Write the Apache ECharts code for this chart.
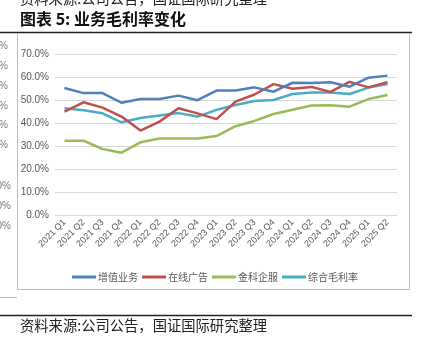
<!DOCTYPE html>
<html><head><meta charset="utf-8">
<script src="https://cdn.jsdelivr.net/npm/echarts@6/dist/echarts.min.js"></script>
<style>html,body{margin:0;padding:0;background:#fff}#c{width:430px;height:349px}</style>
</head><body><div id="c"></div>
<script>
const categories = ['2021 Q1','2021 Q2','2021 Q3','2021 Q4','2022 Q1','2022 Q2','2022 Q3','2022 Q4','2023 Q1','2023 Q2','2023 Q3','2023 Q4','2024 Q1','2024 Q2','2024 Q3','2024 Q4','2025 Q1','2025 Q2'];
const seriesNames = ['增值业务','在线广告','金科企服','综合毛利率'];
const vas = [55.2,53.0,53.0,48.8,50.4,50.4,51.9,49.9,54.1,54.1,55.5,53.6,57.5,57.4,57.7,55.8,59.7,60.6];
const ads = [44.9,49.0,46.7,42.8,36.7,40.6,46.4,44.2,41.7,49.3,52.4,56.9,54.9,55.7,53.5,57.9,55.5,57.7];
const fbs = [32.3,32.3,28.7,27.1,31.6,33.3,33.3,33.3,34.3,38.6,40.9,43.9,45.8,47.6,47.7,47.1,50.4,52.2];
const total = [46.4,45.5,44.2,40.3,42.2,43.3,44.3,42.8,45.7,47.8,49.6,50.0,52.6,53.3,53.3,52.6,55.4,56.9];
const yTicks = {min:0, max:70, interval:10};
const leftCutLabels = ['%','%','%','%','%','%','','0%','0%','0%'];

const colors = ['#4F81BD','#C0504D','#9BBB59','#4BACC6'];
const chart = echarts.init(document.getElementById('c'));
const cutY = [46,66,86,106,125,145,165,186,206,226];
const graphics = [
  {type:'text', left:20, top:-9, style:{text:'资料来源:公司公告，国证国际研究整理', font:'14.3px "Noto Sans CJK SC"', fill:'#222'}},
  {type:'text', left:20, top:11, style:{text:'图表 5: 业务毛利率变化', font:'bold 16px "Noto Sans CJK SC"', fill:'#111'}},
  {type:'line', shape:{x1:0,y1:32.5,x2:412,y2:32.5}, style:{stroke:'#222', lineWidth:1.5}},
  {type:'line', shape:{x1:17.5,y1:33,x2:17.5,y2:289}, style:{stroke:'#BFBFBF', lineWidth:1}},
  {type:'line', shape:{x1:409.5,y1:33,x2:409.5,y2:289}, style:{stroke:'#BFBFBF', lineWidth:1}},
  {type:'line', shape:{x1:17,y1:289.5,x2:410,y2:289.5}, style:{stroke:'#BFBFBF', lineWidth:1}},
  {type:'line', shape:{x1:0,y1:297.5,x2:17,y2:297.5}, style:{stroke:'#BFBFBF', lineWidth:1}},
  {type:'line', shape:{x1:0,y1:315.5,x2:412,y2:315.5}, style:{stroke:'#222', lineWidth:1.5}},
  {type:'text', left:20, top:318, style:{text:'资料来源:公司公告，国证国际研究整理', font:'14.3px "Noto Sans CJK SC"', fill:'#222'}}
];
leftCutLabels.forEach((t,i)=>{
  if(!t) return;
  graphics.push({type:'text', x: t==='%'?8:11, y:cutY[i], style:{text:t, font:'10px "Liberation Sans"', fill:'#777', align:'right', verticalAlign:'middle'}});
});

const mk = (name, data, idx, label) => ({
  name, type:'line', data, symbol:'none', lineStyle:{width:2.5, color:colors[idx]}, itemStyle:{color:colors[idx]},
  z: 10-idx,
  label: label ? {show:true, position:'bottom', distance:-1, offset:[2,0], formatter:(p)=> p.dataIndex===data.length-1 ? p.value.toFixed(1)+'%' : '', color:'#595959', fontSize:10, fontFamily:'Liberation Sans'} : undefined
});

chart.setOption({
  animation:false,
  color: colors,
  graphic: graphics,
  grid:{left:55, right:33, top:54, bottom:134},
  legend:{data:seriesNames, top:267, left:'center', itemWidth:24, itemHeight:3, itemGap:4,
    icon:'rect', textStyle:{color:'#595959', fontSize:10, fontFamily:'Noto Sans CJK SC', padding:[0,0,0,-3]}},
  xAxis:{type:'category', data:categories, boundaryGap:true,
    axisLine:{show:false}, axisTick:{show:false},
    axisLabel:{rotate:45, interval:0, color:'#595959', fontSize:9, fontFamily:'Liberation Sans', margin:6}},
  yAxis:{type:'value', min:yTicks.min, max:yTicks.max, interval:yTicks.interval,
    axisLabel:{formatter:(v)=>v.toFixed(1)+'%', color:'#595959', fontSize:10, fontFamily:'Liberation Sans', margin:6},
    splitLine:{lineStyle:{color:'#D9D9D9'}}, axisLine:{show:false}, axisTick:{show:false}},
  series:[mk(seriesNames[0], vas, 0), mk(seriesNames[1], ads, 1), mk(seriesNames[2], fbs, 2), mk(seriesNames[3], total, 3, true)]
});
</script></body></html>
